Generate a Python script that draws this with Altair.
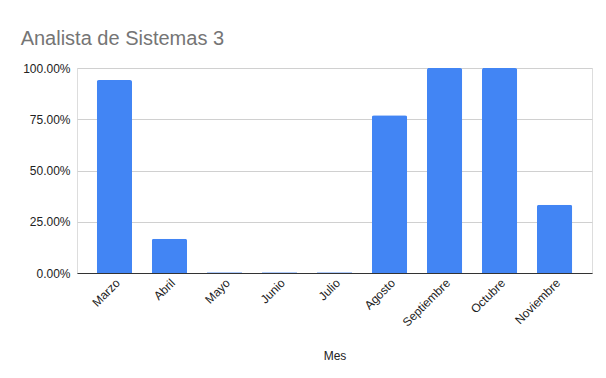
import altair as alt
import pandas as pd

meses = ["Marzo", "Abril", "Mayo", "Junio", "Julio", "Agosto", "Septiembre", "Octubre", "Noviembre"]
valores = [0.9412, 0.1667, 0.004, 0.004, 0.004, 0.7692, 1.0, 1.0, 0.3333]

df = pd.DataFrame({"Mes": meses, "Valor": valores})

chart = alt.Chart(df).mark_bar(
    color="#4285F4",
    cornerRadiusTopLeft=2,
    cornerRadiusTopRight=2,
).encode(
    x=alt.X(
        "Mes:N",
        sort=meses,
        title="Mes",
        scale=alt.Scale(paddingInner=0.36, paddingOuter=0.36),
        axis=alt.Axis(
            labelAngle=-45,
            labelAlign="right",
            labelBaseline="top",
            labelFontSize=12,
            labelColor="#222222",
            labelFont="Liberation Sans",
            labelPadding=4,
            ticks=False,
            domainColor="#333333",
            domainWidth=1,
            titleFont="Liberation Sans",
            titleFontSize=12,
            titleFontWeight="normal",
            titleColor="#222222",
            titlePadding=22,
        ),
    ),
    y=alt.Y(
        "Valor:Q",
        title=None,
        scale=alt.Scale(domain=[0, 1], nice=False),
        axis=alt.Axis(
            format=".2%",
            values=[0, 0.25, 0.5, 0.75, 1.0],
            labelFontSize=12,
            labelColor="#222222",
            labelFont="Liberation Sans",
            labelPadding=7,
            ticks=False,
            domain=False,
            gridColor="#d0d0d0",
            gridWidth=1,
        ),
    ),
).properties(
    width=515,
    height=205,
    autosize=alt.AutoSizeParams(type="none"),
    padding={"left": 69, "top": 60, "right": 6, "bottom": 102},
    title=alt.TitleParams(
        "Analista de Sistemas 3",
        anchor="start",
        frame="bounds",
        font="Liberation Sans",
        fontSize=20,
        fontWeight="normal",
        color="#757575",
        dx=-2,
        offset=13,
    ),
).configure_view(stroke=None).configure(background="white")

chart.save("out.html", embed_options={"renderer": "svg", "actions": False})
